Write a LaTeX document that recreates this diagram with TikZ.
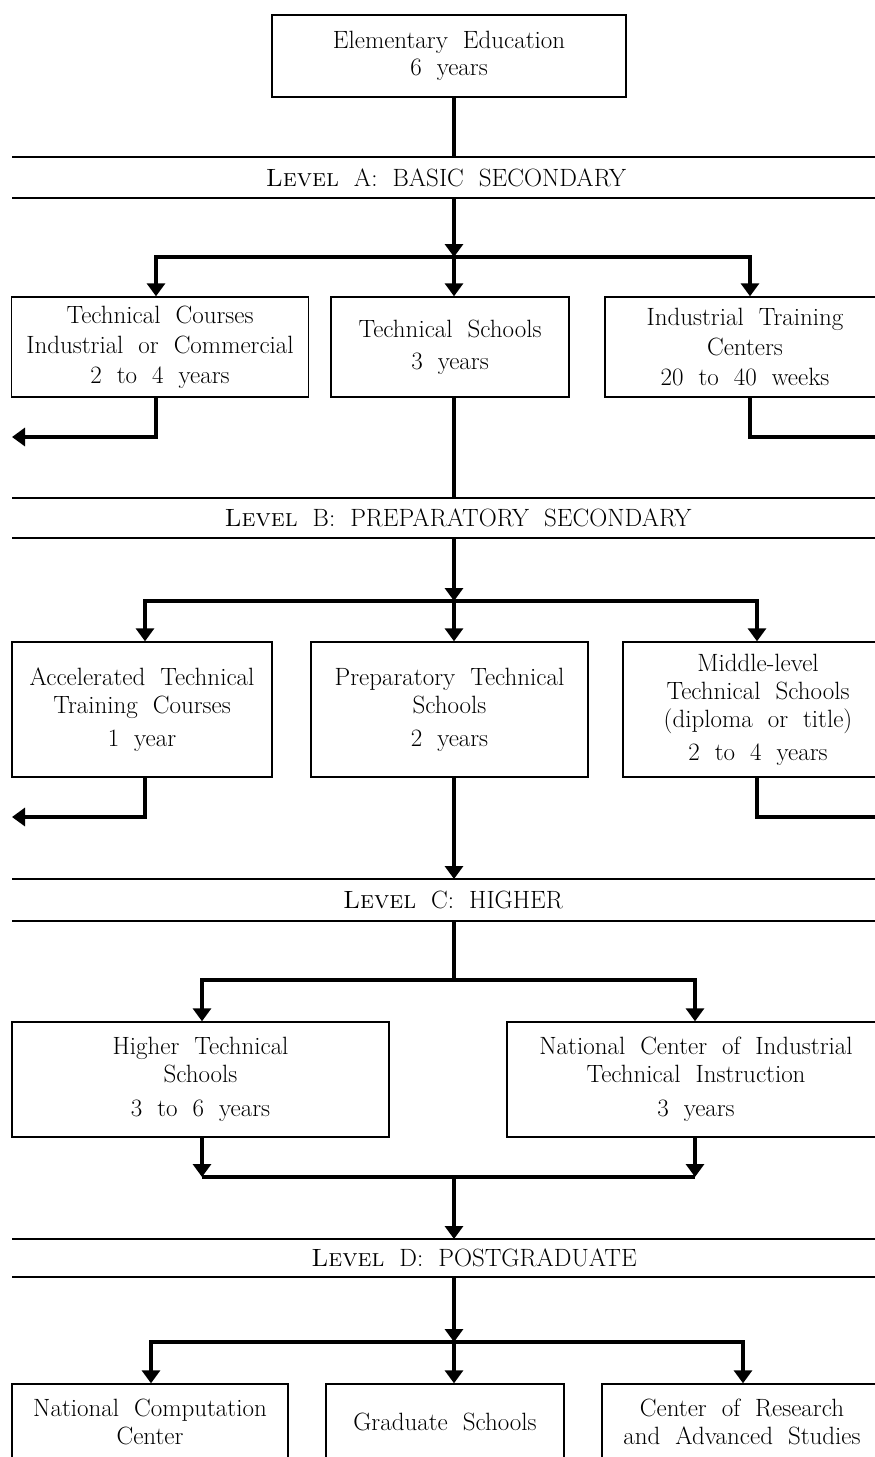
\documentclass[tikz,border=0pt]{standalone}
\usetikzlibrary{arrows.meta}
\newcommand{\txtfont}{\fontsize{25}{28}\selectfont\spaceskip=0.6em\relax}
\begin{document}
\begin{tikzpicture}[x=1pt,y=-1pt,
  box/.style={draw,line width=1.4pt,align=center,inner sep=0pt,font=\txtfont},
  conn/.style={line width=4pt},
  arr/.style={conn,-{Triangle[width=18pt,length=13pt]}},
  band/.style={line width=2.6pt},
  lvl/.style={font=\txtfont}]
\useasboundingbox (0,0) rectangle (875,1457);
% top
\node[box,minimum width=354pt,minimum height=82pt] (top) at (449,56) {Elementary Education\\[-1pt]6 years};
% Level A
\coordinate (LAt) at (454,157); \coordinate (LAb) at (454,198);
\draw[band] (12,157) -- (880,157);
\draw[band] (12,198) -- (880,198);
\node[lvl] (LA) at (446,178) {\textsc{Level} A: BASIC SECONDARY};
\draw[conn] (top.south -| LAt) -- (LAt);
\coordinate (A1) at (156,257); \coordinate (A2) at (454,257); \coordinate (A3) at (750,257);
\node[box,minimum width=297pt,minimum height=100pt] (b1) at (160,347) {Technical Courses\\[2pt]Industrial or Commercial\\[2pt]2 to 4 years};
\node[box,minimum width=238pt,minimum height=100pt] (b2) at (450,347) {Technical Schools\\[4pt]3 years};
\node[box,minimum width=280pt,minimum height=100pt] (b3) at (745,347) {Industrial Training\\[2pt]Centers\\[2pt]20 to 40 weeks};
\draw[arr] (LAb) -- (A2);
\draw[arr] (A2) -- (A1) -- (A1 |- b1.north);
\draw[arr] (A2) -- (A3) -- (A3 |- b3.north);
\draw[arr] (A2) -- (A2 |- b2.north);
\coordinate (oL1) at (12,437); \coordinate (oR1) at (880,437);
\draw[arr] (b1.south -| A1) |- (oL1);
\draw[conn] (b3.south -| A3) |- (oR1);
% Level B
\coordinate (LBt) at (454,498); \coordinate (LBb) at (454,538);
\draw[conn] (b2.south -| A2) -- (LBt);
\draw[band] (12,498) -- (880,498);
\draw[band] (12,538) -- (880,538);
\node[lvl] (LB) at (458,518) {\textsc{Level} B: PREPARATORY SECONDARY};
\coordinate (B1) at (145,601); \coordinate (B2) at (454,601); \coordinate (B3) at (757,601);
\draw[arr] (LBb) -- (B2);
\node[box,minimum width=260pt,minimum height=135pt] (b4) at (142,709.5) {Accelerated Technical\\Training Courses\\[5pt]1 year};
\node[box,minimum width=277pt,minimum height=135pt] (b5) at (449.5,709.5) {Preparatory Technical\\Schools\\[5pt]2 years};
\node[box,minimum width=270pt,minimum height=135pt] (b6) at (758,709.5) {Middle-level\\Technical Schools\\(diploma or title)\\[5pt]2 to 4 years};
\draw[arr] (B2) -- (B1) -- (B1 |- b4.north);
\draw[arr] (B2) -- (B3) -- (B3 |- b6.north);
\draw[arr] (B2) -- (B2 |- b5.north);
\coordinate (oL2) at (12,817); \coordinate (oR2) at (880,817);
\draw[arr] (b4.south -| B1) |- (oL2);
\draw[conn] (b6.south -| B3) |- (oR2);
% Level C
\coordinate (LCt) at (454,879); \coordinate (LCb) at (454,921);
\draw[arr] (b5.south -| B2) -- (LCt);
\draw[band] (12,879) -- (880,879);
\draw[band] (12,921) -- (880,921);
\node[lvl] (LC) at (453,900) {\textsc{Level} C: HIGHER};
\coordinate (C1) at (202,980); \coordinate (C2) at (454,980); \coordinate (C3) at (695,980);
\draw[conn] (LCb) -- (C2);
\node[box,minimum width=377pt,minimum height=115pt] (b7) at (200.5,1079.5) {Higher Technical\\Schools\\[6pt]3 to 6 years};
\node[box,minimum width=378pt,minimum height=115pt] (b8) at (696,1079.5) {National Center of Industrial\\Technical Instruction\\[6pt]3 years};
\draw[arr] (C2) -- (C1) -- (C1 |- b7.north);
\draw[arr] (C2) -- (C3) -- (C3 |- b8.north);
\coordinate (D1) at (202,1177); \coordinate (D2) at (454,1177); \coordinate (D3) at (695,1177);
\draw[arr] (b7.south -| C1) -- (D1);
\draw[arr] (b8.south -| C3) -- (D3);
\draw[conn] (D1) -- (D3);
% Level D
\coordinate (LDt) at (454,1239); \coordinate (LDb) at (454,1277);
\draw[arr] (D2) -- (LDt);
\draw[band] (12,1239) -- (880,1239);
\draw[band] (12,1277) -- (880,1277);
\node[lvl] (LD) at (474,1258) {\textsc{Level} D: POSTGRADUATE};
\coordinate (E1) at (151,1342); \coordinate (E2) at (454,1342); \coordinate (E3) at (743,1342);
\draw[arr] (LDb) -- (E2);
\node[box,minimum width=276pt,minimum height=76pt] (b9) at (150,1422) {National Computation\\Center};
\node[box,minimum width=238pt,minimum height=76pt] (b10) at (445,1422) {Graduate Schools};
\node[box,minimum width=280pt,minimum height=76pt] (b11) at (742,1422) {Center of Research\\and Advanced Studies};
\draw[arr] (E2) -- (E1) -- (E1 |- b9.north);
\draw[arr] (E2) -- (E3) -- (E3 |- b11.north);
\draw[arr] (E2) -- (E2 |- b10.north);
\end{tikzpicture}
\end{document}
